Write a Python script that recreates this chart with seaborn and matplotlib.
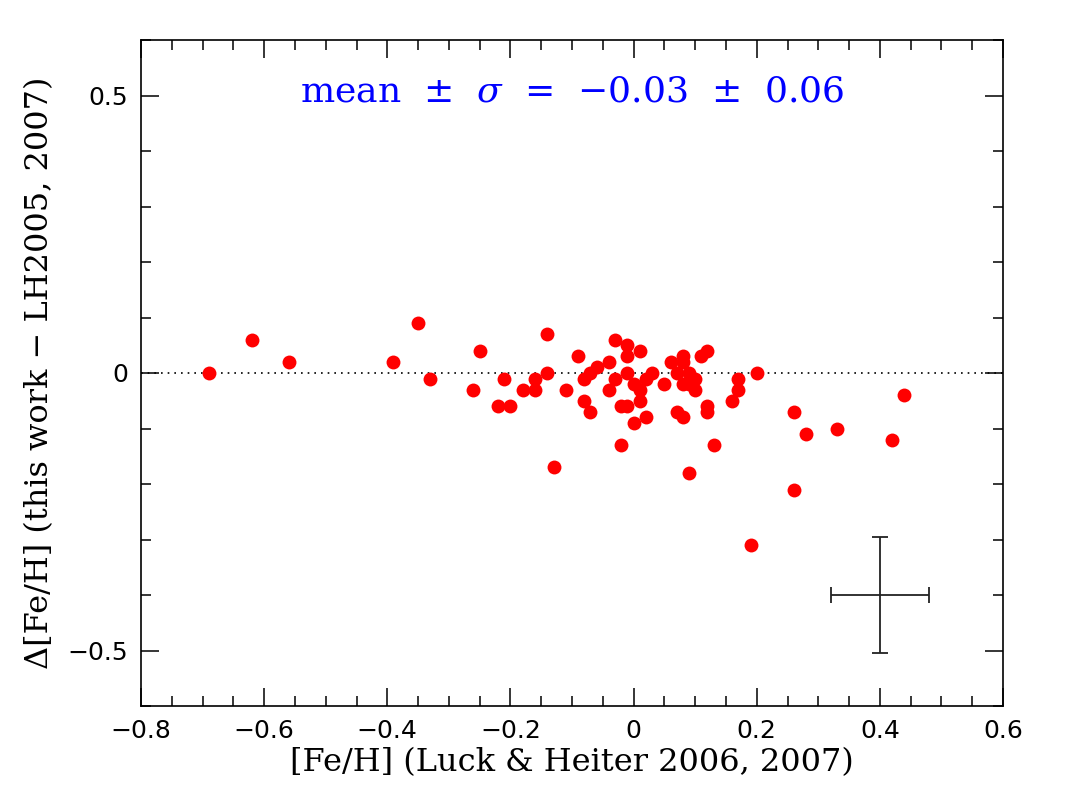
import matplotlib
matplotlib.use("Agg")
import matplotlib.pyplot as plt
import seaborn as sns
import pandas as pd
from matplotlib.ticker import MultipleLocator

feh_lh = [-0.69, -0.62, -0.56, -0.39, -0.35, -0.33, -0.26, -0.25, -0.22, -0.21,
          -0.20, -0.18, -0.16, -0.16, -0.14, -0.14, -0.13, -0.11, -0.09, -0.08,
          -0.08, -0.07, -0.06, -0.07, -0.04, -0.04, -0.03, -0.03, -0.02, -0.01,
          -0.02, -0.01, -0.01, -0.01, 0.00, 0.00, 0.01, 0.01, 0.01, 0.02,
          0.02, 0.03, 0.05, 0.06, 0.07, 0.07, 0.08, 0.08, 0.08, 0.08,
          0.09, 0.09, 0.09, 0.10, 0.10, 0.11, 0.12, 0.12, 0.12, 0.13,
          0.16, 0.17, 0.17, 0.19, 0.20, 0.26, 0.26, 0.28, 0.33, 0.42, 0.44]
delta_feh = [0.00, 0.06, 0.02, 0.02, 0.09, -0.01, -0.03, 0.04, -0.06, -0.01,
             -0.06, -0.03, -0.01, -0.03, 0.07, 0.00, -0.17, -0.03, 0.03, -0.01,
             -0.05, 0.00, 0.01, -0.07, 0.02, -0.03, 0.06, -0.01, -0.06, -0.06,
             -0.13, 0.05, 0.03, 0.00, -0.02, -0.09, 0.04, -0.03, -0.05, -0.01,
             -0.08, 0.00, -0.02, 0.02, 0.00, -0.07, 0.03, 0.02, -0.02, -0.08,
             0.00, -0.02, -0.18, -0.01, -0.03, 0.03, 0.04, -0.06, -0.07, -0.13,
             -0.05, -0.01, -0.03, -0.31, 0.00, -0.07, -0.21, -0.11, -0.10, -0.12, -0.04]

err_x, err_y = [0.40], [-0.40]
err_dx, err_dy = [0.08], [0.105]
x_ticks = [-0.8, -0.6, -0.4, -0.2, 0, 0.2, 0.4, 0.6]
x_ticklabels = ["−0.8", "−0.6", "−0.4", "−0.2", "0", "0.2", "0.4", "0.6"]
y_ticks = [-0.5, 0, 0.5]
y_ticklabels = ["−0.5", "0", "0.5"]
stat_text = "mean  ±  $\\sigma$  =  −0.03  ±  0.06"

df = pd.DataFrame({"feh": feh_lh, "delta": delta_feh})

sns.set_style("ticks")
plt.rcParams["font.family"] = ["DejaVu Serif", "DejaVu Sans"]
plt.rcParams["mathtext.fontset"] = "dejavuserif"

fig = plt.figure(figsize=(10.67, 7.97), dpi=100)
ax = fig.add_axes([141/1067, 1-706/797, (1003-141)/1067, (706-40)/797])

ax.axhline(0, color="black", linestyle=(0, (1, 3)), linewidth=1.2, zorder=1)
sns.scatterplot(data=df, x="feh", y="delta", ax=ax, color="#ff0000",
                s=100, linewidth=0, zorder=3, legend=False)
ax.errorbar(err_x, err_y, xerr=err_dx, yerr=err_dy, fmt="none",
            ecolor="#222222", elinewidth=1.3, capsize=6, capthick=1.3)

ax.set_xlim(-0.8, 0.6)
ax.set_ylim(-0.6, 0.6)
ax.set_xticks(x_ticks)
ax.set_xticklabels(x_ticklabels, family="DejaVu Sans")
ax.set_yticks(y_ticks)
ax.set_yticklabels(y_ticklabels, family="DejaVu Sans")
ax.xaxis.set_minor_locator(MultipleLocator(0.05))
ax.yaxis.set_minor_locator(MultipleLocator(0.1))
ax.tick_params(which="both", direction="in", top=True, right=True,
               labelsize=18, width=1.1, pad=9, color="black", labelcolor="black")
ax.tick_params(which="major", length=13)
ax.tick_params(which="minor", length=7)
for sp in ax.spines.values():
    sp.set_linewidth(1.2)
    sp.set_color("black")

ax.set_xlabel("[Fe/H] (Luck & Heiter 2006, 2007)", fontsize=23, labelpad=3,
              color="black")
ax.set_ylabel("Δ[Fe/H] (this work − LH2005, 2007)", fontsize=23, labelpad=9,
              color="black")
ax.text(-0.10, 0.508, stat_text, color="#0000ff", fontsize=26,
        ha="center", va="center")

fig.savefig("out.png", dpi=100)
